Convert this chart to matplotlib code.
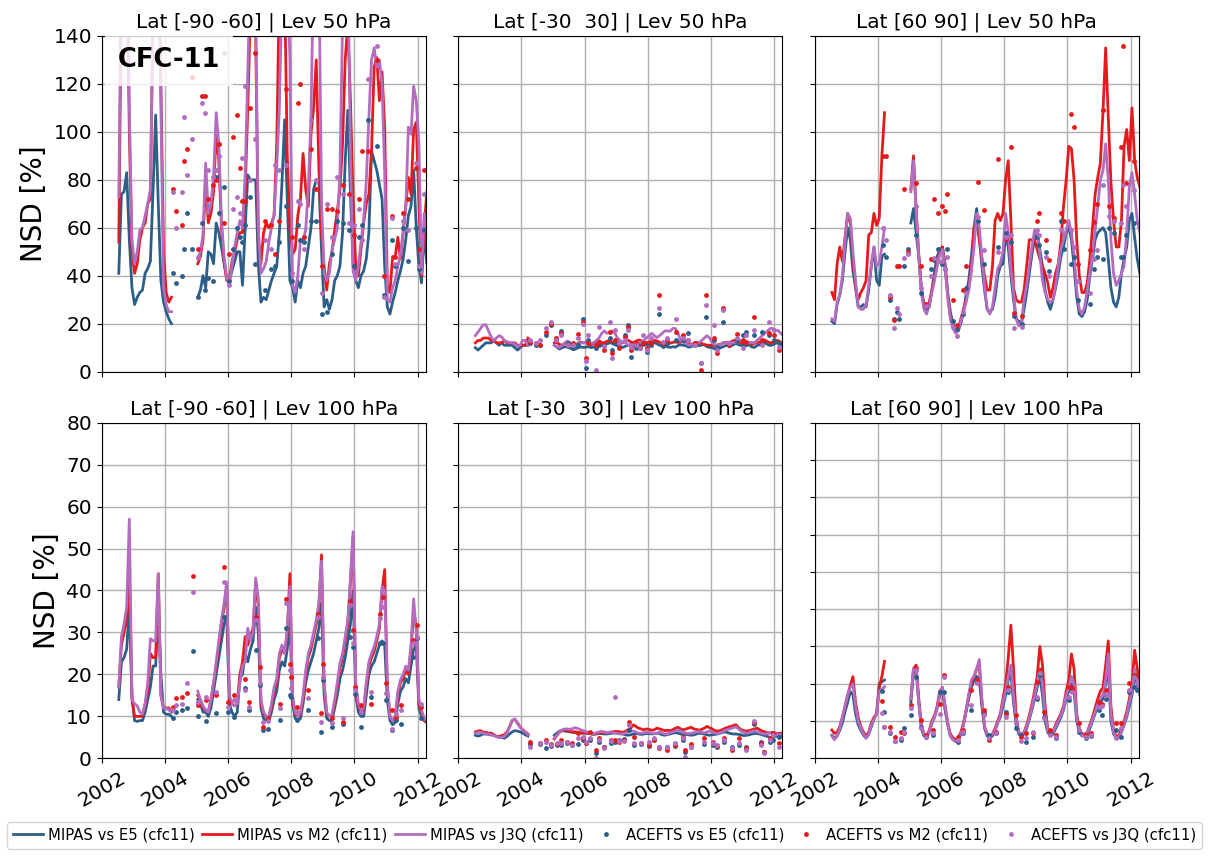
import matplotlib.pyplot as plt
import numpy as np
import pandas as pd

# MIPAS monthly means: Jul 2002 - Mar 2004 (segment a) and Jan 2005 - Apr 2012 (segment b)
months_a = pd.period_range('2002-07', '2004-03', freq='M')
months_b = pd.period_range('2005-01', '2012-04', freq='M')

# ---------------- Lat [-90 -60] | 50 hPa ----------------
tl_e5_a = [41, 74, 75, 83, 55, 35, 28, 31, 33, 34, 41, 43, 46, 75, 107, 70, 38, 29, 25, 22, 20]
tl_m2_a = [54, 160, 190, 180, 100, 50, 41, 45, 55, 60, 62, 70, 72, 150, 200, 190, 120, 50, 33, 29, 31]
tl_j3q_a = [73, 170, 200, 190, 110, 55, 45, 50, 59, 60, 65, 70, 76, 150, 200, 190, 110, 35, 28, 25, 25]
tl_e5_b = [31, 34, 40, 35, 50, 49, 45, 62, 58, 52, 45, 39,
           38, 42, 46, 50, 50, 36, 60, 82, 80, 80, 80, 45,
           29, 31, 30, 34, 38, 41, 44, 58, 79, 105, 72, 38,
           35, 29, 38, 35, 41, 44, 52, 60, 76, 80, 80, 51,
           27, 30, 26, 30, 38, 40, 44, 58, 88, 109, 74, 44,
           38, 35, 40, 42, 47, 58, 92, 88, 84, 78, 72, 44,
           27, 24, 29, 33, 38, 42, 47, 55, 65, 69, 84, 60,
           44, 37, 59, 45]
tl_m2_b = [45, 48, 55, 80, 62, 66, 75, 100, 88, 60, 46, 38,
           38, 46, 50, 55, 58, 58, 75, 110, 150, 160, 140, 55,
           45, 58, 62, 60, 62, 65, 95, 160, 180, 160, 90, 60,
           49, 51, 65, 72, 91, 76, 69, 99, 110, 130, 85, 58,
           44, 34, 45, 50, 59, 67, 76, 95, 130, 145, 113, 72,
           44, 40, 51, 62, 70, 74, 92, 127, 131, 113, 125, 102,
           36, 33, 48, 48, 56, 47, 58, 69, 81, 74, 101, 104,
           70, 40, 60, 75]
tl_j3q_b = [47, 50, 57, 87, 66, 70, 81, 108, 95, 63, 48, 39,
            36, 44, 52, 58, 63, 60, 82, 125, 170, 180, 150, 60,
            41, 43, 46, 54, 60, 66, 85, 110, 160, 180, 170, 130,
            36, 33, 40, 55, 55, 59, 77, 106, 170, 190, 170, 72,
            41, 38, 41, 51, 55, 60, 83, 145, 190, 170, 90, 42,
            38, 44, 54, 63, 79, 106, 130, 135, 127, 130, 120, 83,
            30, 29, 35, 38, 44, 49, 58, 68, 102, 99, 119, 113,
            95, 41, 66, 60]
tl_ace_t = [2004.26, 2004.35, 2004.53, 2004.61, 2004.69, 2004.87, 2005.04, 2005.19, 2005.27, 2005.36,
            2005.52, 2005.63, 2005.71, 2005.86, 2006.03, 2006.16, 2006.28, 2006.37, 2006.45, 2006.53,
            2006.69, 2006.86, 2007.17, 2007.36, 2007.50, 2007.60, 2007.85, 2008.03, 2008.20, 2008.28,
            2008.39, 2008.63, 2008.80, 2008.96, 2009.12, 2009.28, 2009.46, 2009.64, 2009.82, 2009.98,
            2010.15, 2010.23, 2010.43, 2010.70, 2010.95, 2011.20, 2011.30, 2011.54, 2011.70, 2011.96,
            2012.04, 2012.20]
tl_ace_e5 = [41, 37, 40, 51, 66, 51, 31, 62, 34, 39, 38, 81, 66, 77, 38, 51, 60, 56, 54, 61,
             73, 45, 34, 43, 44, 54, 69, 38, 61, 55, 54, 63, 63, 24, 25, 49, 63, 62, 59, 44,
             56, 61, 105, 94, 32, 55, 44, 60, 46, 60, 43, 59]
tl_ace_m2 = [76, 67, 61, 88, 93, 123, 51, 115, 115, 72, 78, 80, 95, 62, 49, 98, 107, 85, 71, 71,
             110, 133, 63, 61, 49, 63, 118, 56, 112, 120, 56, 93, 76, 44, 68, 68, 67, 78, 74, 57,
             72, 92, 92, 130, 40, 65, 48, 66, 72, 85, 51, 84]
tl_ace_j3q = [75, 60, 75, 106, 82, 97, 48, 112, 108, 84, 81, 84, 90, 133, 36, 68, 73, 66, 89, 119,
              80, 97, 55, 51, 86, 84, 86, 41, 71, 70, 51, 105, 80, 33, 70, 56, 81, 74, 62, 61,
              68, 55, 122, 136, 31, 64, 45, 63, 59, 87, 44, 74]

# ---------------- Lat [-30 30] | 50 hPa ----------------
tm_e5_a = [10, 9, 10, 11, 12, 12, 12, 13, 12, 11, 12, 11, 11, 11, 11, 10, 9, 10, 11, 11, 11]
tm_m2_a = [12, 13, 13, 14, 14, 14, 13, 13, 12, 12, 12, 13, 12, 12, 12, 12, 11, 11, 11, 11, 14]
tm_j3q_a = [15, 16.5, 18, 19.5, 19.5, 17, 14.5, 13, 14, 15, 14.5, 13, 12.5, 12, 12, 11.5, 10.5, 11, 13, 13, 11]
tm_e5_b = [11, 10.2, 9.4, 10, 10.4, 10.2, 9.8, 9.3, 9.4, 10, 10.3, 10.1,
           10.2, 10.4, 10, 10.3, 10.8, 11, 11.2, 11, 11.6, 12, 11.8, 11.2,
           10.8, 10.3, 10.1, 10.6, 11, 11.2, 10.4, 10.8, 11.2, 11, 10.9, 11.3,
           11.1, 11.8, 12.1, 11.6, 11, 10.8, 11, 10.3, 10.1, 10.4, 10.2, 10.9,
           11.2, 11, 10.8, 10.2, 10.4, 11, 11.2, 10.8, 11.1, 11.3, 10.4, 10.1,
           10, 9.4, 9.3, 9.9, 10.3, 10.8, 11.1, 10.7, 11.2, 11.8, 11.2, 10.9,
           11.1, 10.8, 11.2, 10.3, 10.1, 10.9, 11.2, 11.8, 12, 11.3, 10.9, 11.2,
           11.8, 12.1, 11.3, 11]
tm_m2_b = [12, 12.2, 11.3, 11, 11.8, 12.2, 11.4, 11.2, 11, 11.8, 12.3, 12,
           12.2, 11.8, 11.2, 11.9, 12.3, 12.8, 12.2, 12, 12.7, 13, 12.4, 12.1,
           12.2, 11.8, 12.1, 12.8, 13.1, 12.4, 12, 12.7, 13.2, 12.9, 12.3, 12.1,
           12.3, 12.8, 13.1, 12.8, 12.2, 12, 11.8, 11.3, 11.9, 12.2, 12.4, 12.1,
           12.4, 12.8, 12.2, 11.8, 11.3, 11.9, 12.2, 12.1, 11.8, 11.2, 11.1, 11,
           11, 10.8, 11.2, 11.3, 11.9, 12.2, 12.1, 12.4, 12.9, 13.1, 12.4, 12,
           12.1, 11.8, 12.2, 11.3, 11.8, 12.1, 12.3, 12.9, 13.2, 12.4, 12, 12.2,
           12.8, 13, 12.2, 11.9]
tm_j3q_b = [11, 10.4, 10.1, 11, 12, 12.8, 12, 11.2, 11, 11.3, 12, 12,
            12, 12.2, 11.8, 12.1, 13, 14, 16, 17, 16, 16.2, 17, 16,
            14, 13, 12.2, 12, 11.2, 11, 11.1, 11.8, 12, 12.2, 13, 14,
            15, 16, 15, 14.2, 15, 16, 17, 17, 16.8, 18, 18, 16,
            13, 12.2, 11.8, 11.2, 11, 11.8, 12, 12.2, 13, 14, 15, 14,
            12, 11.2, 11, 11.2, 12, 12.2, 11.8, 12, 12.1, 12.3, 13, 13,
            13, 12.3, 12, 12.2, 12, 13, 14, 15, 16, 17, 18, 18,
            17, 17.2, 16, 15]
tm_ace_t = [2004.26, 2004.45, 2004.60, 2004.79, 2004.95, 2005.08, 2005.26, 2005.47, 2005.62, 2005.79,
            2005.95, 2006.03, 2006.12, 2006.37, 2006.45, 2006.63, 2006.79, 2006.88, 2006.97, 2007.10,
            2007.28, 2007.37, 2007.47, 2007.62, 2007.74, 2007.84, 2007.97, 2008.10, 2008.37, 2008.47,
            2008.62, 2008.90, 2009.10, 2009.26, 2009.50, 2009.70, 2009.84, 2010.10, 2010.19, 2010.39,
            2010.58, 2010.84, 2011.00, 2011.10, 2011.37, 2011.63, 2011.84, 2012.00, 2012.16]
tm_ace_e5 = [12, 11, 11, 15.3, 19.4, 13.5, 17, 12, 10, 11, 21.8, 1.4, 13, 10, 11, 10.5, 13.9, 9, 12, 10.5,
             15.3, 19.4, 6, 10, 10, 12, 8.3, 11, 24, 10.5, 12, 13, 13, 16, 11, 3.7, 22.6, 13, 10.4, 20.8,
             11, 13, 15.3, 16.7, 15.3, 16.7, 15.3, 13, 12]
tm_ace_m2 = [12.5, 12, 11, 16.7, 20, 14, 16, 11, 12, 15.7, 20.8, 5.5, 12, 11, 12.5, 9, 16.7, 7.6, 13, 9.7,
             14.6, 18.7, 9, 12, 10.4, 12, 10, 11.8, 32, 12, 13, 16.7, 15.3, 13, 12, 0.7, 32, 14, 7.6, 26.7,
             11, 15.7, 13, 12.5, 22.6, 13, 16, 15.3, 9]
tm_ace_j3q = [13, 12, 13, 18, 20.8, 13, 15.3, 11, 11, 14, 20, 4.5, 15.3, 0.5, 18.7, 10.5, 20.8, 5.5, 17.4, 12,
              13, 17.4, 10.4, 11, 10, 15.3, 9, 14, 26.7, 12.5, 14, 22, 14, 13, 11, 3.5, 27.8, 19.4, 9, 25.7,
              12, 14, 9.7, 15.3, 17.4, 11, 20.8, 17.4, 10.4]

# ---------------- Lat [60 90] | 50 hPa ----------------
tr_e5_a = [21, 20, 28, 32, 38, 50, 60, 55, 42, 35, 27, 27, 28, 27, 34, 44, 52, 38, 36, 48, 49]
tr_m2_a = [33, 30, 45, 52, 46, 56, 66, 62, 47, 35, 30, 33, 35, 38, 57, 58, 66, 61, 64, 90, 108]
tr_j3q_a = [22, 21, 29, 32, 40, 55, 66, 64, 50, 38, 27, 26, 26, 28, 36, 45, 52, 44, 45, 52, 60]
tr_e5_b = [62, 68, 58, 48, 35, 28, 26, 27, 34, 42, 48, 51,
           52, 45, 33, 25, 20, 17, 17, 20, 25, 32, 38, 48,
           60, 68, 56, 44, 34, 26, 25, 26, 31, 40, 44, 45,
           57, 52, 40, 30, 22, 21, 20, 26, 33, 41, 49, 55,
           58, 51, 44, 34, 29, 26, 30, 35, 41, 48, 52, 58,
           60, 55, 44, 31, 24, 23, 25, 30, 40, 47, 55, 58,
           59, 60, 58, 47, 35, 29, 27, 31, 41, 47, 52, 63,
           66, 56, 47, 41]
tr_m2_b = [76, 90, 68, 49, 34, 27, 25, 29, 34, 39, 45, 50,
           52, 44, 32, 23, 19, 17, 18, 22, 26, 30, 35, 43,
           60, 63, 55, 47, 40, 34, 34, 44, 63, 66, 63, 66,
           80, 88, 63, 35, 30, 29, 29, 34, 44, 55, 55, 55,
           51, 47, 44, 41, 37, 31, 35, 41, 45, 54, 69, 80,
           94, 93, 80, 55, 40, 33, 33, 37, 47, 60, 74, 81,
           87, 109, 135, 106, 79, 63, 52, 52, 63, 94, 101, 88,
           110, 88, 81, 77]
tr_j3q_b = [75, 88, 67, 48, 33, 26, 24, 28, 33, 38, 44, 49,
            51, 43, 31, 22, 18, 16, 17, 21, 25, 29, 34, 42,
            52, 66, 60, 48, 36, 26, 24, 27, 35, 43, 45, 50,
            66, 58, 43, 33, 22, 19, 20, 30, 36, 44, 52, 59,
            58, 49, 38, 33, 30, 29, 30, 36, 44, 51, 55, 59,
            63, 58, 49, 34, 26, 24, 27, 34, 41, 49, 59, 69,
            80, 84, 95, 80, 55, 41, 36, 38, 41, 44, 58, 77,
            83, 74, 63, 58]
tr_ace_t = [2004.16, 2004.24, 2004.37, 2004.50, 2004.59, 2004.68, 2004.84, 2004.95, 2005.21, 2005.37,
            2005.53, 2005.69, 2005.79, 2005.90, 2006.03, 2006.11, 2006.19, 2006.37, 2006.51, 2006.69,
            2006.79, 2007.16, 2007.37, 2007.79, 2008.05, 2008.21, 2008.32, 2008.55, 2009.05, 2009.10,
            2009.32, 2009.42, 2009.79, 2009.90, 2010.11, 2010.20, 2010.33, 2010.72, 2010.85, 2010.95,
            2011.11, 2011.32, 2011.48, 2011.69, 2011.77, 2011.85, 2012.11]
tr_ace_e5 = [53, 48, 30, 22, 25, 22, 44, 51, 57, 33, 27, 43, 46.5, 51, 45, 43, 51, 21, 17.6, 24,
             35, 63, 45, 52, 58, 54, 23, 20, 56, 53, 50, 42, 63, 51, 45, 48, 30, 28, 43, 48,
             47, 60, 58, 48, 48, 57, 62]
tr_ace_m2 = [90, 90, 31, 21.5, 44, 44, 76, 50, 78.5, 44, 28, 47, 72, 66, 69, 67, 74, 30, 19.6, 34,
             44, 79, 67.6, 88.5, 55.5, 93.5, 24.6, 23, 63, 66, 55, 46.5, 66, 63, 107.6, 102, 45, 50.7, 62.5, 70,
             109, 69, 64, 93.7, 136, 78.5, 88]
tr_ace_j3q = [60, 55, 32, 18, 26.5, 24, 47.5, 49, 69, 35, 27.5, 40, 47.5, 46, 46, 43, 48, 18.7, 15, 25,
              33, 64.6, 50.7, 50, 56, 57, 18, 18.5, 59, 57, 48, 40, 59, 58, 59, 52, 38, 32.6, 47, 50.7,
              77.8, 65, 63, 62, 78, 69, 75.7]

# ---------------- Lat [-90 -60] | 100 hPa ----------------
bl_e5_a = [14, 23, 24, 26, 36, 15, 9, 8.8, 9, 9, 11, 14, 17, 22, 22, 36, 20, 11, 10.5, 10.5, 10]
bl_m2_a = [17, 27, 30, 33, 45, 14, 10, 10, 10, 10, 13, 16, 25, 24, 24, 44, 15, 12, 12, 12, 11]
bl_j3q_a = [17, 29, 32, 36, 57, 14, 13, 12.5, 11, 10.5, 13, 18, 28.5, 28, 28, 44, 15, 12, 12, 11.5, 11]
bl_e5_b = [14, 13, 11, 11, 10, 12, 16, 20, 24, 28, 32, 34,
           13, 11, 10, 11, 19, 20, 25, 23, 26, 28, 36, 30,
           12, 9.5, 9, 9, 11, 14, 16, 21, 23, 22, 26, 33,
           13, 9.5, 9, 9.5, 13, 18, 21, 23, 25, 28, 31, 37,
           15, 9.5, 9, 9, 12, 15, 19, 21, 24, 28, 32, 40,
           15, 11, 10, 10, 15, 20, 22, 23, 25, 27, 28, 27,
           14, 9, 8, 8.5, 13, 16, 17, 19, 18, 22, 26, 27,
           12, 10, 9, 8.5]
bl_m2_b = [15, 14, 12, 11.5, 11, 14, 18, 22, 27, 32, 36, 41,
           14, 13, 12.5, 13, 20, 23, 29, 27, 29, 31, 42, 36,
           13, 10.5, 10, 10, 12, 16, 18, 24, 26, 25, 30, 44,
           14, 10.5, 10, 10.5, 14, 20, 24, 26, 29, 32, 36, 48.5,
           17, 10.5, 10, 10, 13, 17, 21.5, 24, 28, 32, 42, 53,
           17, 12.5, 11, 11.5, 17, 22, 24, 25.5, 28, 31, 40, 45,
           17, 10, 9, 9.5, 15, 18, 19, 21, 20, 26, 35, 31.5,
           13, 11, 9, 9]
bl_j3q_b = [16, 14, 12.5, 11.5, 11, 14, 18, 23, 28, 33, 37, 42,
            15, 13, 12.5, 13, 18, 22, 23, 31, 28, 30, 43, 38,
            14, 11, 10, 10, 13, 17, 19, 25, 27, 25, 31, 41,
            15, 11, 10, 11, 15, 21, 25, 27, 30, 33, 37, 47,
            18, 11, 10, 10.5, 14, 18, 22.6, 25, 29, 33, 43, 54,
            18, 13, 11.5, 12, 18, 23, 25, 26.6, 29, 32, 41, 40,
            18, 10, 9, 10, 16, 18.7, 20, 22, 21, 27, 38, 30,
            14, 11.5, 9.5, 9]
bl_ace_t = [2004.25, 2004.35, 2004.53, 2004.70, 2004.88, 2005.05, 2005.30, 2005.63, 2005.88, 2006.00,
            2006.20, 2006.53, 2006.65, 2006.88, 2007.00, 2007.10, 2007.26, 2007.63, 2007.85, 2007.95,
            2008.00, 2008.18, 2008.53, 2008.85, 2008.95, 2009.02, 2009.30, 2009.64, 2009.87, 2009.95,
            2010.02, 2010.20, 2010.53, 2010.81, 2010.92, 2011.00, 2011.20, 2011.32, 2011.48, 2011.87,
            2011.97, 2012.10]
bl_ace_e5 = [9.5, 11, 11.5, 11.9, 25.6, 10, 9, 10.7, 33.7, 11.1, 9.9, 16.7, 11.5, 25.8, 17.5, 6.7, 7.1, 9.1, 31, 15,
             14.5, 9.1, 11.5, 28.6, 6.3, 18.7, 7.5, 8.3, 29, 26.6, 15.3, 7.5, 14.7, 27.4, 27.5, 14, 6.7, 9.1, 8.3, 24.2,
             28.6, 9.5]
bl_ace_m2 = [12.3, 14.3, 14.7, 15.5, 43.4, 12.7, 13.9, 15, 45.5, 13.5, 15, 18.8, 13.5, 33.7, 21.8, 7.5, 9.5, 13, 38, 22.6,
             19.4, 12.3, 16.3, 34.5, 10.7, 22.5, 9.5, 8.7, 37.5, 30.5, 17, 12.7, 13, 34.4, 38.5, 17.9, 11.5, 9.9, 12.7, 28.2,
             31.7, 12.3]
bl_ace_j3q = [11.5, 12.7, 13, 17.9, 39.7, 13.5, 14.5, 15.9, 42, 12.3, 13.9, 16.3, 12.3, 33, 17.9, 8.7, 9, 11.9, 37, 21,
              16.7, 11, 14.3, 33.7, 8.7, 19.4, 8.5, 9.5, 36.5, 27.5, 16.3, 11.1, 15.9, 33.5, 36, 15.5, 7.1, 10.5, 11.5, 27.4,
              29, 13]

# ---------------- Lat [-30 30] | 100 hPa ----------------
bm_e5_a = [5.5, 5.3, 5.5, 5.8, 5.8, 5.7, 5.6, 5.5, 5.2, 5.0, 5.0, 4.8, 5.2, 5.8, 6.3, 6.6, 6.5, 6.3, 6.0, 5.6, 5.3]
bm_m2_a = [6.3, 6.5, 6.6, 6.2, 6.2, 6.0, 6.0, 5.6, 5.3, 5.2, 5.4, 5.6, 6.3, 7.5, 9.0, 9.3, 8.5, 7.5, 6.8, 6.3, 5.8]
bm_j3q_a = [6.0, 6.2, 6.2, 6.0, 5.8, 5.8, 5.6, 5.4, 5.2, 5.0, 5.0, 5.2, 6.0, 7.5, 9.0, 9.4, 8.3, 7.5, 6.8, 6.2, 5.6]
bm_e5_b = [5.5, 6.0, 6.5, 6.6, 6.5, 6.4, 6.3, 6.2, 6.1, 6.0, 6.0, 6.0,
           6.0, 5.9, 5.8, 5.7, 5.8, 5.9, 5.9, 5.8, 5.8, 5.9, 6.0, 6.1,
           6.0, 5.9, 5.8, 5.6, 5.5, 5.6, 5.8, 5.9, 5.8, 5.7, 5.8, 5.9,
           5.9, 5.8, 5.9, 6.0, 5.9, 5.6, 5.5, 5.7, 5.8, 6.0, 6.1, 6.0,
           5.8, 5.6, 5.7, 5.6, 5.5, 5.6, 5.8, 6.0, 5.9, 5.8, 5.6, 5.5,
           5.6, 5.7, 5.8, 6.0, 6.2, 6.3, 6.1, 5.9, 5.8, 5.8, 5.7, 5.6,
           5.4, 5.5, 5.6, 5.8, 5.9, 5.9, 5.8, 5.6, 5.4, 5.2, 5.0, 5.1,
           5.2, 5.3, 5.3, 5.2]
bm_m2_b = [4.6, 5.5, 6.2, 6.7, 6.8, 6.6, 6.4, 6.3, 6.3, 6.2, 6.1, 6.1,
           6.1, 6.0, 5.9, 5.8, 5.9, 6.0, 6.2, 6.0, 6.1, 6.2, 6.3, 6.4,
           6.4, 6.3, 6.2, 6.4, 6.8, 7.2, 8.0, 7.6, 7.2, 7.0, 6.8, 7.0,
           6.9, 6.7, 6.8, 7.2, 7.0, 6.8, 6.6, 6.7, 6.6, 6.8, 7.2, 7.4,
           7.0, 6.8, 7.0, 7.2, 7.4, 7.0, 6.9, 6.7, 6.9, 7.2, 7.6, 7.3,
           7.0, 6.6, 6.5, 6.6, 6.9, 7.2, 7.4, 7.6, 7.8, 8.0, 7.3, 6.8,
           6.6, 6.5, 6.6, 6.8, 7.0, 7.2, 6.8, 6.5, 6.3, 6.1, 6.0, 6.2,
           6.0, 5.9, 6.0, 6.1]
bm_j3q_b = [4.8, 5.5, 6.3, 6.8, 7.0, 7.0, 6.9, 7.1, 7.3, 7.1, 6.8, 6.6,
            6.4, 6.2, 6.0, 5.9, 6.1, 6.3, 6.4, 6.3, 6.1, 6.2, 6.3, 6.0,
            5.9, 5.8, 5.8, 6.0, 6.3, 6.5, 6.5, 6.3, 6.0, 6.0, 6.1, 6.2,
            6.2, 6.0, 5.9, 6.0, 6.3, 6.0, 5.8, 5.9, 6.1, 6.3, 6.5, 6.8,
            6.5, 6.2, 6.0, 5.9, 6.0, 6.1, 6.3, 6.4, 6.2, 6.1, 6.3, 6.5,
            6.2, 6.0, 5.9, 6.1, 6.4, 6.7, 6.9, 7.1, 7.3, 7.5, 7.0, 6.4,
            6.2, 6.0, 6.1, 6.4, 6.6, 6.3, 6.1, 5.9, 5.8, 5.9, 6.2, 6.0,
            5.8, 5.6, 5.7, 5.8]
bm_ace_t = [2004.26, 2004.60, 2004.79, 2004.95, 2005.13, 2005.26, 2005.44, 2005.60, 2005.79, 2005.95,
            2006.03, 2006.16, 2006.37, 2006.45, 2006.60, 2006.84, 2006.95, 2007.10, 2007.26, 2007.42,
            2007.58, 2007.79, 2008.05, 2008.20, 2008.35, 2008.60, 2008.87, 2009.10, 2009.18, 2009.37,
            2009.79, 2010.05, 2010.20, 2010.42, 2010.66, 2010.89, 2011.10, 2011.37, 2011.58, 2011.68,
            2011.86, 2011.95, 2012.16]
bm_ace_e5 = [3.5, 3.4, 2.5, 3.0, 3.2, 3.2, 3.6, 3.2, 3.3, 4.4, 3.7, 4.4, 1.2, 4.0, 2.6, 3.6, 4.0, 4.4, 4.6, 6.8,
             3.2, 3.4, 2.9, 4.4, 2.6, 2.8, 2.9, 4.4, 1.6, 2.6, 3.3, 3.2, 2.6, 4.0, 2.8, 3.2, 2.8, 8.3, 4.0, 1.4,
             4.0, 4.4, 5.2]
bm_ace_m2 = [4.0, 3.6, 4.4, 3.5, 3.4, 4.4, 4.0, 3.6, 6.0, 4.8, 3.6, 6.3, 2.0, 4.8, 2.8, 4.4, 4.4, 4.0, 4.4, 8.7,
             5.2, 3.6, 3.2, 4.4, 2.4, 2.1, 3.2, 5.2, 2.0, 3.3, 4.8, 4.0, 2.9, 4.8, 2.1, 4.8, 2.4, 8.7, 3.6, 1.6,
             4.8, 6.0, 3.6]
bm_ace_j3q = [2.8, 3.6, 4.0, 3.2, 3.6, 3.6, 4.0, 3.2, 4.8, 5.0, 4.0, 4.8, 0.0, 4.4, 2.4, 4.2, 14.5, 4.2, 4.2, 7.9,
              3.6, 3.7, 4.0, 4.8, 2.8, 2.6, 3.6, 4.8, 0.4, 2.8, 4.0, 3.6, 3.2, 4.4, 2.4, 3.6, 2.1, 9.0, 3.2, 1.2,
              4.4, 5.6, 2.8]

# ---------------- Lat [60 90] | 100 hPa ----------------
br_e5_a = [6.2, 5.4, 6.0, 7.5, 9.5, 12.5, 15, 17.9, 17, 12, 9, 7.5, 6.2, 5.4, 6.5, 8.5, 10.5, 12, 20, 20.5, 21]
br_m2_a = [7.6, 6.7, 7.0, 8.5, 11, 14, 17, 19.5, 21.9, 15, 11, 8.5, 7, 6, 7, 9.5, 11, 12, 19, 22, 26]
br_j3q_a = [6.0, 5.0, 6.0, 8.0, 11, 14, 17, 19, 20, 14, 10, 8, 6.5, 5.5, 6.5, 9, 10.5, 12, 18, 18.5, 19.2]
br_e5_b = [15, 23, 24, 15, 8, 6, 5.8, 7, 9.4, 11, 13.5, 17,
           18, 13, 9, 6, 5, 4.5, 5, 6.5, 9, 12.5, 16, 19,
           21, 22, 21, 14, 8, 6, 5.5, 6, 7.5, 9.5, 11, 14,
           17, 21, 23, 15, 9, 6.5, 6, 6.5, 8, 10.5, 13, 16,
           19, 22, 17, 10, 7, 6, 6.5, 8, 9.5, 11, 13, 16,
           18, 20, 18, 10, 7, 6, 6, 6.5, 8, 10, 12, 14,
           15, 16, 20, 24, 10, 6.5, 5.5, 5.5, 7, 9, 11, 14,
           17, 22, 20, 17]
br_m2_b = [16, 24, 25, 16, 9, 6.5, 6, 7.5, 10, 11.5, 14, 18,
           19, 14, 9.5, 6.5, 5.5, 5, 5.5, 7, 9.5, 13, 17, 20,
           22, 24, 25, 15, 8.5, 6.5, 6, 6.5, 8, 10, 12, 16,
           20, 27, 35.7, 24, 11, 7, 6.5, 7, 9, 11.5, 14.5, 18,
           22, 30, 25, 14, 8, 6.5, 7, 9, 10.5, 12, 14, 18,
           21, 28, 24, 12, 8, 6.5, 6.5, 7, 9, 11, 13.5, 16,
           18, 19, 25, 31.5, 14, 7.5, 6, 6, 8, 10, 12.5, 16,
           20, 29, 24, 19]
br_j3q_b = [16, 24, 24, 15, 8.5, 6.5, 6, 7, 9.5, 11, 13.5, 17.5,
            19, 14, 9.5, 6, 5, 4.5, 5, 6.5, 9, 13, 17, 21,
            22, 24, 26.5, 16, 8.5, 6.5, 6, 6.5, 7.5, 9.5, 11.5, 15,
            18, 22, 25, 17, 10, 7, 6.5, 7, 8.5, 11, 13.5, 17,
            20, 24, 20, 12, 7.5, 6.5, 7, 8.5, 10, 11.5, 13.5, 17,
            19, 22, 20, 11, 7.5, 6, 6.2, 7, 8.5, 10.5, 12.5, 14.5,
            16, 17, 21, 28, 12, 7, 5.5, 5.5, 7, 9.5, 11.5, 15,
            18, 24, 21, 17]
br_ace_t = [2004.12, 2004.20, 2004.37, 2004.53, 2004.72, 2004.84, 2005.05, 2005.19, 2005.37, 2005.53,
            2005.74, 2005.95, 2006.10, 2006.53, 2006.69, 2006.95, 2007.13, 2007.37, 2007.53, 2007.74,
            2008.05, 2008.13, 2008.37, 2008.53, 2008.69, 2008.90, 2009.05, 2009.14, 2009.27, 2009.45,
            2009.63, 2010.06, 2010.14, 2010.37, 2010.58, 2010.74, 2011.00, 2011.10, 2011.22, 2011.53,
            2011.69, 2011.95, 2012.11, 2012.21]
br_ace_e5 = [18, 12.5, 6.7, 4.7, 5, 8, 11.6, 21.9, 8.3, 5.8, 6.3, 17.9, 17.9, 4.5, 6.7, 13, 20.5, 12.1, 6.3, 6.7,
             12.5, 17.9, 8, 6.3, 4.5, 5.8, 16, 22.3, 11.2, 7.1, 5.4, 15.6, 18.3, 7.1, 5.4, 6, 13, 11.6, 16, 7.6,
             5.8, 17.9, 19.2, 18.3]
br_ace_m2 = [15.5, 8.5, 8.5, 5.8, 7.1, 6.7, 14.3, 24.3, 10.3, 6.3, 7.6, 14.7, 22.3, 5.8, 7.6, 18.3, 21, 13, 4.9, 7.1,
             12, 19.2, 11.6, 5.8, 6.7, 6.7, 20.5, 23.7, 12.5, 7.6, 6.3, 19.2, 18.8, 9.4, 6.3, 6.7, 15.2, 14.7, 18.3, 9.4,
             9.4, 20.1, 22.3, 22.3]
br_ace_j3q = [12.2, 8.5, 7.1, 4.7, 5.4, 7.1, 13.4, 23.7, 8, 5.8, 6.7, 12, 21.9, 4.9, 7.1, 14.3, 20.1, 11.6, 5.4, 6.7,
              11.2, 18.3, 9.8, 4.7, 5.4, 7.1, 16.5, 22.8, 10.7, 6.3, 5.8, 16.5, 17.9, 7.6, 5.8, 6.3, 13.8, 14, 17, 5.4,
              8, 18.3, 21.9, 20.5]

c_e5 = '#2c5e8a'
c_m2 = '#e41a1c'
c_j3q = '#b36cbf'


def dec_year(months):
    return np.asarray(months.year + (months.month - 0.5) / 12.0, dtype=float)


t_line = np.concatenate([dec_year(months_a), [np.nan], dec_year(months_b)])


def join(a, b):
    return np.concatenate([a, [np.nan], b])


panels = [
    ('Lat [-90 -60] | Lev 50 hPa', 140, 20,
     (tl_e5_a, tl_e5_b), (tl_m2_a, tl_m2_b), (tl_j3q_a, tl_j3q_b),
     (tl_ace_t, tl_ace_e5, tl_ace_m2, tl_ace_j3q)),
    ('Lat [-30  30] | Lev 50 hPa', 140, 20,
     (tm_e5_a, tm_e5_b), (tm_m2_a, tm_m2_b), (tm_j3q_a, tm_j3q_b),
     (tm_ace_t, tm_ace_e5, tm_ace_m2, tm_ace_j3q)),
    ('Lat [60 90] | Lev 50 hPa', 140, 20,
     (tr_e5_a, tr_e5_b), (tr_m2_a, tr_m2_b), (tr_j3q_a, tr_j3q_b),
     (tr_ace_t, tr_ace_e5, tr_ace_m2, tr_ace_j3q)),
    ('Lat [-90 -60] | Lev 100 hPa', 80, 10,
     (bl_e5_a, bl_e5_b), (bl_m2_a, bl_m2_b), (bl_j3q_a, bl_j3q_b),
     (bl_ace_t, bl_ace_e5, bl_ace_m2, bl_ace_j3q)),
    ('Lat [-30  30] | Lev 100 hPa', 80, 10,
     (bm_e5_a, bm_e5_b), (bm_m2_a, bm_m2_b), (bm_j3q_a, bm_j3q_b),
     (bm_ace_t, bm_ace_e5, bm_ace_m2, bm_ace_j3q)),
    ('Lat [60 90] | Lev 100 hPa', 90, 10,
     (br_e5_a, br_e5_b), (br_m2_a, br_m2_b), (br_j3q_a, br_j3q_b),
     (br_ace_t, br_ace_e5, br_ace_m2, br_ace_j3q)),
]

fig, axes = plt.subplots(2, 3, figsize=(12.09, 8.56), dpi=100)
fig.subplots_adjust(left=0.0841, right=0.942, top=0.958, bottom=0.1141, wspace=0.1, hspace=0.152)

for k, (title, ytop, ystep, e5, m2, j3q, ace) in enumerate(panels):
    ax = axes.flat[k]
    row, col = divmod(k, 3)
    ax.plot(t_line, join(*e5), color=c_e5, lw=2, label='MIPAS vs E5 (cfc11)')
    ax.plot(t_line, join(*m2), color=c_m2, lw=2, label='MIPAS vs M2 (cfc11)')
    ax.plot(t_line, join(*j3q), color=c_j3q, lw=2, label='MIPAS vs J3Q (cfc11)')
    t_ace, a_e5, a_m2, a_j3q = ace
    ax.plot(t_ace, a_e5, 'o', color=c_e5, ms=3.5, mew=0, label='ACEFTS vs E5 (cfc11)')
    ax.plot(t_ace, a_m2, 'o', color=c_m2, ms=3.5, mew=0, label='ACEFTS vs M2 (cfc11)')
    ax.plot(t_ace, a_j3q, 'o', color=c_j3q, ms=3.5, mew=0, label='ACEFTS vs J3Q (cfc11)')

    ax.set_title(title, fontsize=14.5)
    ax.set_xlim(2002, 2012.26)
    ax.set_xticks(np.arange(2002, 2013, 2))
    ax.set_ylim(0, ytop)
    ax.set_yticks(np.arange(0, ytop + 1, ystep))
    ax.grid(True, color='#b0b0b0', lw=1)
    ax.tick_params(labelsize=14.5)
    if row == 0:
        ax.tick_params(labelbottom=False)
    else:
        plt.setp(ax.get_xticklabels(), rotation=30)
    if col == 0:
        ax.set_ylabel('NSD [%]', fontsize=20)
    else:
        ax.tick_params(labelleft=False)

axes[0, 0].text(0.05, 0.928, 'CFC-11', transform=axes[0, 0].transAxes, fontsize=18.5,
                fontweight='bold', va='center',
                bbox=dict(boxstyle='square,pad=0.5', facecolor='white', alpha=0.8, edgecolor='none'))

handles, labels = axes[0, 0].get_legend_handles_labels()
fig.legend(handles, labels, loc='lower center', ncol=6, fontsize=10.7,
           bbox_to_anchor=(0.5, 0.0), handletextpad=0.35, columnspacing=0.5)

fig.savefig('out.png', dpi=100)
